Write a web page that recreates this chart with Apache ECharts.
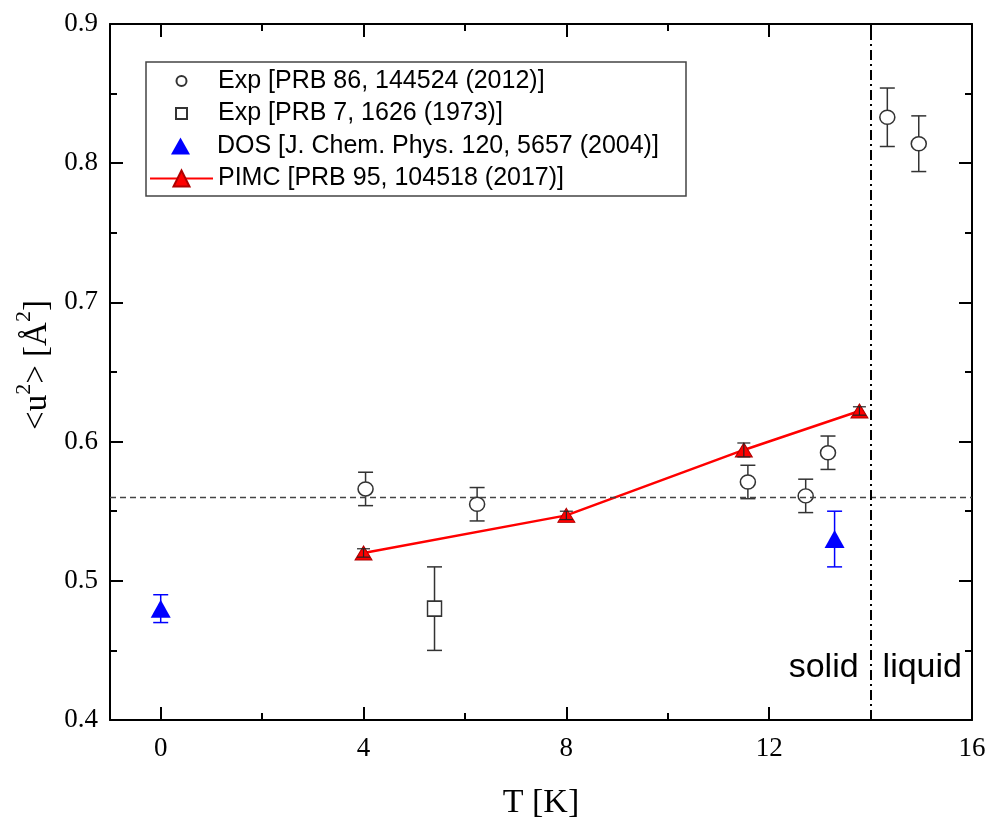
<!DOCTYPE html>
<html><head><meta charset="utf-8">
<script src="https://cdn.jsdelivr.net/npm/echarts@6/dist/echarts.min.js"></script>
<style>html,body{margin:0;padding:0;background:#fff}#c{width:990px;height:821px}</style>
</head><body><div id="c"></div>
<script>
// ---- data ----
const expNewName = 'Exp [PRB 86, 144524 (2012)]';
const expNewT = [4.04, 6.24, 11.58, 12.72, 13.16, 14.33, 14.95];
const expNewU = [0.566, 0.555, 0.571, 0.561, 0.592, 0.833, 0.814];
const expNewErr = [0.012, 0.012, 0.012, 0.012, 0.012, 0.021, 0.020];

const expOldName = 'Exp [PRB 7, 1626 (1973)]';
const expOldT = [5.40];
const expOldU = [0.480];
const expOldErr = [0.030];

const dosName = 'DOS [J. Chem. Phys. 120, 5657 (2004)]';
const dosT = [0, 13.29];
const dosU = [0.480, 0.530];
const dosErr = [0.010, 0.020];

const pimcName = 'PIMC [PRB 95, 104518 (2017)]';
const pimcT = [4, 8, 11.5, 13.78];
const pimcU = [0.520, 0.547, 0.594, 0.622];
const pimcErr = [0.003, 0.003, 0.005, 0.003];

const meltingT = 14;
const refU = 0.5615;
const xMajorTicks = [0, 4, 8, 12, 16];
const xMinorTicks = [2, 6, 10, 14];
const phaseLabels = ['solid', 'liquid'];

// ---- helpers ----
const pts = (xs, ys) => xs.map((x, i) => [x, ys[i]]);
const errPts = (xs, ys, es) => xs.map((x, i) => [x, ys[i] - es[i], ys[i] + es[i]]);
function errRender(color, capW, lw) {
  return function (params, api) {
    const x = api.value(0), lo = api.value(1), hi = api.value(2);
    const a = api.coord([x, hi]), b = api.coord([x, lo]);
    const style = { stroke: color, lineWidth: lw };
    return { type: 'group', children: [
      { type: 'line', shape: { x1: a[0], y1: a[1], x2: b[0], y2: b[1] }, style },
      { type: 'line', shape: { x1: a[0] - capW / 2, y1: a[1], x2: a[0] + capW / 2, y2: a[1] }, style },
      { type: 'line', shape: { x1: b[0] - capW / 2, y1: b[1], x2: b[0] + capW / 2, y2: b[1] }, style }
    ]};
  };
}
const serif = 'Liberation Serif, Times New Roman, serif';
const sans = 'Liberation Sans, Arial, sans-serif';
const axisLine = { show: true, onZero: false, lineStyle: { color: '#000', width: 2 } };
const tickStyle = { color: '#000', width: 2 };
const gridBox = { left: 110, right: 18, top: 24, bottom: 101, containLabel: false, outerBoundsMode: 'none' };

const legIconCenter = 180.5, legTextX = 217;
function legendRow(name, icon, iconW, iconH, centerY) {
  const left = legIconCenter - iconW / 2;
  const pad = legTextX - (left + iconW + 5);
  return {
    orient: 'horizontal', padding: 0, selectedMode: false,
    left: left, top: centerY - 13,
    itemWidth: iconW, itemHeight: iconH,
    textStyle: { fontFamily: sans, fontSize: 25, lineHeight: 26, color: '#000', padding: [0, 0, 0, pad] },
    data: [icon ? { name, icon } : { name }]
  };
}

const chart = echarts.init(document.getElementById('c'), null, { renderer: 'canvas' });
chart.setOption({
  animation: false,
  backgroundColor: '#fff',
  grid: [Object.assign({}, gridBox), Object.assign({}, gridBox)],
  xAxis: [
    { gridIndex: 0, type: 'value', min: -1, max: 16, position: 'bottom',
      axisLine, splitLine: { show: false },
      axisTick: { show: true, inside: true, length: 13, lineStyle: tickStyle, customValues: xMajorTicks },
      axisLabel: { customValues: xMajorTicks, margin: 15, fontFamily: serif, fontSize: 27, color: '#000' },
      name: 'T [K]', nameLocation: 'middle', nameGap: 66,
      nameTextStyle: { fontFamily: serif, fontSize: 34, color: '#000' } },
    { gridIndex: 0, type: 'value', min: -1, max: 16, position: 'top',
      axisLine, splitLine: { show: false },
      axisTick: { show: true, inside: true, length: 13, lineStyle: tickStyle, customValues: xMajorTicks },
      axisLabel: { show: false } },
    { gridIndex: 1, type: 'value', min: -1, max: 16, position: 'bottom',
      axisLine: { show: false, onZero: false }, splitLine: { show: false },
      axisTick: { show: true, inside: true, length: 7, lineStyle: tickStyle, customValues: xMinorTicks },
      axisLabel: { show: false } },
    { gridIndex: 1, type: 'value', min: -1, max: 16, position: 'top',
      axisLine: { show: false, onZero: false }, splitLine: { show: false },
      axisTick: { show: true, inside: true, length: 7, lineStyle: tickStyle, customValues: xMinorTicks },
      axisLabel: { show: false } }
  ],
  yAxis: [
    { gridIndex: 0, type: 'value', min: 0.4, max: 0.9, interval: 0.1, position: 'left',
      axisLine, splitLine: { show: false },
      axisTick: { show: true, inside: true, length: 13, lineStyle: tickStyle },
      minorTick: { show: true, splitNumber: 2, length: 7, lineStyle: tickStyle },
      axisLabel: { margin: 12, fontFamily: serif, fontSize: 27, color: '#000',
        formatter: v => v.toFixed(1) },
      name: '{n|<u}{s|2}{n|> [Å}{s|2}{n|]}', nameLocation: 'middle', nameGap: 56, nameRotate: 90,
      nameTextStyle: { color: '#000', padding: [0, 0, 0, 14], rich: {
        n: { fontFamily: serif, fontSize: 33, lineHeight: 40, color: '#000', verticalAlign: 'bottom' },
        s: { fontFamily: serif, fontSize: 22, lineHeight: 22, color: '#000', verticalAlign: 'top' } } } },
    { gridIndex: 0, type: 'value', min: 0.4, max: 0.9, interval: 0.1, position: 'right',
      axisLine, splitLine: { show: false },
      axisTick: { show: true, inside: true, length: 13, lineStyle: tickStyle },
      minorTick: { show: true, splitNumber: 2, length: 7, lineStyle: tickStyle },
      axisLabel: { show: false } },
    { gridIndex: 1, type: 'value', min: 0.4, max: 0.9, show: false }
  ],
  legend: [
    legendRow(expNewName, 'circle', 10, 10, 81),
    legendRow(expOldName, 'rect', 11, 11, 113.5),
    legendRow(dosName, 'triangle', 19, 17, 146),
    legendRow(pimcName, null, 63, 20, 178.5)
  ],
  series: [
    { type: 'custom', name: 'errNew', xAxisIndex: 0, yAxisIndex: 0, z: 2, silent: true,
      renderItem: errRender('#333', 15, 1.5), data: errPts(expNewT, expNewU, expNewErr) },
    { type: 'scatter', name: expNewName, xAxisIndex: 0, yAxisIndex: 0, z: 3,
      symbol: 'circle', symbolSize: [15, 14],
      itemStyle: { color: '#fff', borderColor: '#333', borderWidth: 1.5, opacity: 1 },
      data: pts(expNewT, expNewU),
      markLine: { silent: true, symbol: ['none', 'none'], label: { show: false },
        data: [
          { yAxis: refU, lineStyle: { type: [6, 4], color: '#444', width: 1.3 } },
          { xAxis: meltingT, lineStyle: { type: [10, 4, 2, 4], color: '#000', width: 2 } }
        ] } },
    { type: 'custom', name: 'errOld', xAxisIndex: 0, yAxisIndex: 0, z: 2, silent: true,
      renderItem: errRender('#333', 15, 1.5), data: errPts(expOldT, expOldU, expOldErr) },
    { type: 'scatter', name: expOldName, xAxisIndex: 0, yAxisIndex: 0, z: 3,
      symbol: 'rect', symbolSize: [14, 15],
      itemStyle: { color: '#fff', borderColor: '#333', borderWidth: 1.5, opacity: 1 },
      data: pts(expOldT, expOldU) },
    { type: 'custom', name: 'errDos', xAxisIndex: 0, yAxisIndex: 0, z: 2, silent: true,
      renderItem: errRender('#0000ff', 15, 1.5), data: errPts(dosT, dosU, dosErr) },
    { type: 'scatter', name: dosName, xAxisIndex: 0, yAxisIndex: 0, z: 3,
      symbol: 'triangle', symbolSize: [20, 18],
      itemStyle: { color: '#0000ff', opacity: 1 },
      data: pts(dosT, dosU) },
    { type: 'line', name: pimcName, xAxisIndex: 0, yAxisIndex: 0, z: 3,
      symbol: 'triangle', symbolSize: [17, 14], showAllSymbol: true,
      lineStyle: { color: '#ff0000', width: 2.5 },
      itemStyle: { color: '#ff0000', borderColor: '#b00000', borderWidth: 1, opacity: 1 },
      data: pts(pimcT, pimcU) },
    { type: 'custom', name: 'errPimc', xAxisIndex: 0, yAxisIndex: 0, z: 4, silent: true,
      renderItem: errRender('#222', 13, 1.2), data: errPts(pimcT, pimcU, pimcErr) }
  ]
});

// annotations placed through the axis scales
const labelU = 0.4375;
const pSolid = chart.convertToPixel({ xAxisIndex: 0, yAxisIndex: 0 }, [meltingT, labelU]);
chart.setOption({
  graphic: [
    { type: 'rect', shape: { x: 146, y: 62, width: 540, height: 134 },
      style: { fill: 'none', stroke: '#444', lineWidth: 1.5 }, z: 10, silent: true },
    { type: 'text', x: pSolid[0] - 12, y: pSolid[1],
      style: { text: phaseLabels[0], fontFamily: sans, fontSize: 34, fill: '#000', align: 'right', verticalAlign: 'middle' }, z: 10 },
    { type: 'text', x: pSolid[0] + 12, y: pSolid[1],
      style: { text: phaseLabels[1], fontFamily: sans, fontSize: 34, fill: '#000', align: 'left', verticalAlign: 'middle' }, z: 10 }
  ]
});
</script></body></html>
